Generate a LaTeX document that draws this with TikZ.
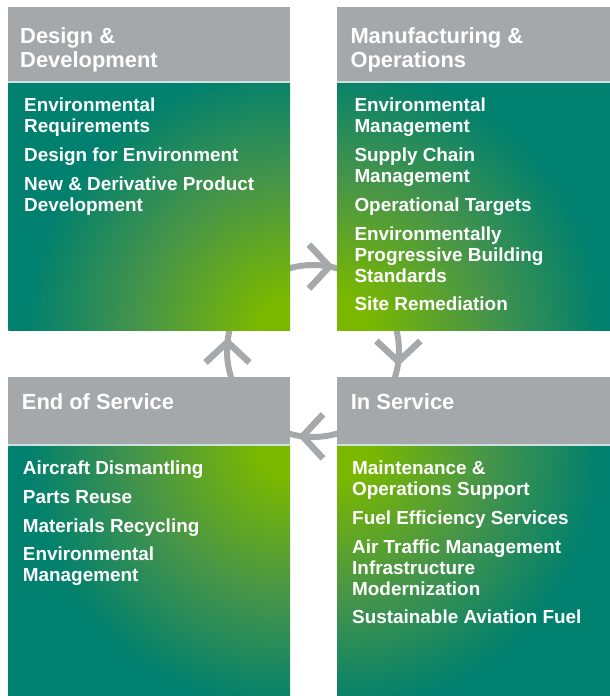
\documentclass[tikz,border=0pt]{standalone}
\usepackage{fontspec}
\setmainfont{Liberation Sans}

\definecolor{sea}{HTML}{00806E}
\definecolor{leaf}{HTML}{7AB800}
\definecolor{hdrgray}{HTML}{A4A8AB}
\definecolor{ring}{HTML}{A6A9AC}
\definecolor{seam}{HTML}{CFE0E0}

\pgfdeclareradialshading{glow}{\pgfpoint{0bp}{0bp}}{color(0bp)=(leaf); color(2bp)=(leaf); color(9.5bp)=(leaf!45!sea!80!gray); color(16.5bp)=(sea); color(50bp)=(sea)}

\tikzset{
  head/.style={anchor=north west, inner sep=0pt, align=left, text=white,
    font=\fontsize{21.9}{24}\selectfont\bfseries},
  items/.style={anchor=north west, inner sep=0pt, align=left, text=white,
    font=\fontsize{18.9}{21}\selectfont\bfseries},
  chev/.style={draw=ring, line width=6.5pt, line join=miter}
}

\begin{document}
\begin{tikzpicture}[x=1pt,y=-1pt]
\useasboundingbox (0,0) rectangle (610,696);

% the cycle ring, mostly hidden by the panels
\coordinate (c) at (313,351);
\draw[ring, line width=6pt] (c) circle[radius=86pt];

% panels: x left/right, header top/bottom, body top/bottom, glow corner
\foreach \xa/\xb/\ya/\yh/\yt/\yb/\gx/\gy in
  {8.3/290/7.3/81/83/330/290/330,
   337/610/7.3/81/83/330/337/330,
   8.3/290/377.3/444/446.5/696/290/446.5,
   337/610/377.3/444/446.5/696/337/446.5}
{
  \fill[seam] (\xa,\ya) rectangle (\xb,\yb);
  \fill[hdrgray] (\xa,\ya) rectangle (\xb,\yh);
  \begin{scope}
    \clip (\xa,\yt) rectangle (\xb,\yb);
    \fill[sea] (\xa,\yt) rectangle (\xb,\yb);
    \shade[shading=glow] (\gx,\gy) circle[radius=400pt];
  \end{scope}
}

% arrow heads
\coordinate (tipr) at ([shift={(-79:86)}]c);
\coordinate (tipd) at ([shift={(7:86)}]c);
\coordinate (tipl) at ([shift={(97:86)}]c);
\coordinate (tipu) at ([shift={(186:86)}]c);
\draw[chev] ([shift={(-20.5,-22)}]tipr) -- (tipr) -- ([shift={(-20.5,22)}]tipr);
\draw[chev] ([shift={(-22,-20.5)}]tipd) -- (tipd) -- ([shift={(22,-20.5)}]tipd);
\draw[chev] ([shift={(20.5,-22)}]tipl) -- (tipl) -- ([shift={(20.5,22)}]tipl);
\draw[chev] ([shift={(-22,20.5)}]tipu) -- (tipu) -- ([shift={(22,20.5)}]tipu);

% headers
\node[head] (dd) at (20,27.3) {Design \&\\Development};
\node[head] (mo) at (350.3,27.3) {Manufacturing \&\\Operations};
\node[head] (eos) at (21.7,393.6) {End of Service};
\node[head] (ins) at (350.7,393.6) {In Service};

% lists
\node[items] (ddlist) at (24,98.1) {Environmental\\Requirements\\[7.7pt]
  Design for Environment\\[7.7pt]
  New \& Derivative Product\\Development};
\node[items] (molist) at (354.3,98.1) {Environmental\\Management\\[7.7pt]
  Supply Chain\\Management\\[7.7pt]
  Operational Targets\\[7.7pt]
  Environmentally\\Progressive Building\\Standards\\[7.7pt]
  Site Remediation};
\node[items] (eoslist) at (22.7,460.7) {Aircraft Dismantling\\[7.7pt]
  Parts Reuse\\[7.7pt]
  Materials Recycling\\[7.7pt]
  Environmental\\Management};
\node[items] (inslist) at (352,460.7) {Maintenance \&\\Operations Support\\[7.7pt]
  Fuel Efficiency Services\\[7.7pt]
  Air Traffic Management\\Infrastructure\\Modernization\\[7.7pt]
  Sustainable Aviation Fuel};
\end{tikzpicture}
\end{document}
